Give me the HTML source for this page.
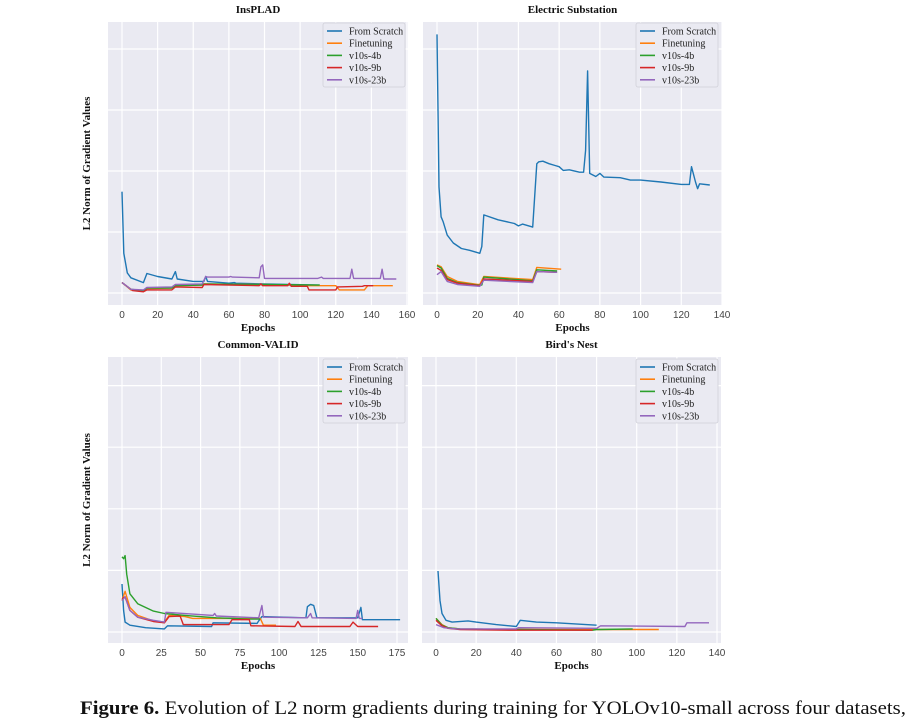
<!DOCTYPE html>
<html><head><meta charset="utf-8"><style>
html,body{margin:0;padding:0;background:#fff;}
svg{display:block;}
.t{font-family:"Liberation Serif",serif;font-weight:bold;font-size:11px;fill:#111;}
.tick{font-family:"Liberation Sans",sans-serif;font-size:10px;fill:#444;}
.leg{font-family:"Liberation Serif",serif;font-size:10px;fill:#222;}
</style></head><body>
<svg id="fig" width="920" height="720" viewBox="0 0 920 720">
<text x="80" y="714" font-family="Liberation Serif,serif" font-size="19" fill="#111" textLength="826" lengthAdjust="spacingAndGlyphs"><tspan font-weight="bold">Figure 6.</tspan> Evolution of L2 norm gradients during training for YOLOv10-small across four datasets,</text>
</svg>
<script>
const seriesNames=["From Scratch","Finetuning","v10s-4b","v10s-9b","v10s-23b"];
const seriesColors=["#1f77b4","#ff7f0e","#2ca02c","#d62728","#9467bd"];
const panelTitles=["InsPLAD","Electric Substation","Common-VALID","Bird's Nest"];
const xTicks1=[0,20,40,60,80,100,120,140,160];
const xTicks2=[0,20,40,60,80,100,120,140];
const xTicks3=[0,25,50,75,100,125,150,175];
const xTicks4=[0,20,40,60,80,100,120,140];

// InsPLAD
const ins_scratch_x=[0,1,3,5,12,14,20,28,30,31,40,46,47,48,60,63,64,80,111];
const ins_scratch_v=[1.66,0.65,0.33,0.25,0.17,0.32,0.27,0.23,0.35,0.23,0.19,0.19,0.27,0.19,0.16,0.17,0.16,0.15,0.13];
const ins_fine_x=[0,5,12,14,28,30,45,46,78,94,105,120,122,136,138,152];
const ins_fine_v=[0.17,0.05,0.03,0.07,0.08,0.12,0.13,0.15,0.14,0.13,0.12,0.12,0.05,0.05,0.12,0.12];
const ins_4b_x=[0,5,12,14,28,30,45,46,80,111];
const ins_4b_v=[0.17,0.06,0.04,0.08,0.08,0.12,0.13,0.15,0.14,0.13];
const ins_9b_x=[0,6,12,14,28,30,45,46,77,78,79,93,94,95,104,105,120,121,135,136,141];
const ins_9b_v=[0.17,0.04,0.02,0.05,0.05,0.10,0.09,0.14,0.12,0.15,0.12,0.12,0.16,0.11,0.11,0.05,0.05,0.10,0.11,0.12,0.12];
const ins_23b_x=[0,5,12,14,28,30,45,47,48,60,61,62,77,78,79,80,110,112,113,128,129,130,145,146,147,154];
const ins_23b_v=[0.17,0.06,0.05,0.09,0.10,0.14,0.15,0.27,0.26,0.26,0.27,0.26,0.25,0.43,0.46,0.24,0.24,0.26,0.24,0.24,0.39,0.24,0.24,0.39,0.23,0.23];

// Electric Substation
const el_scratch_x=[0,1,2,3,5,8,12,16,20,21,22,23,30,38,40,42,47,49,50,52,55,58,60,62,65,70,72,73,74,75,78,80,82,90,95,100,110,120,124,125,127,128,129,134];
const el_scratch_v=[4.24,1.74,1.25,1.17,0.95,0.82,0.73,0.70,0.66,0.65,0.76,1.28,1.20,1.14,1.10,1.13,1.08,2.12,2.15,2.16,2.12,2.09,2.07,2.01,2.02,1.98,1.98,2.34,3.64,1.96,1.91,1.96,1.90,1.89,1.85,1.85,1.82,1.78,1.78,2.07,1.82,1.71,1.79,1.77];
const el_fine_x=[0,2,5,10,20,21,23,47,49,61];
const el_fine_v=[0.46,0.43,0.27,0.19,0.14,0.14,0.27,0.22,0.42,0.39];
const el_4b_x=[0,2,5,10,20,22,23,47,49,59];
const el_4b_v=[0.45,0.41,0.24,0.17,0.13,0.13,0.26,0.20,0.38,0.36];
const el_9b_x=[0,2,5,10,21,23,47,49,59];
const el_9b_v=[0.41,0.37,0.22,0.16,0.12,0.23,0.19,0.35,0.34];
const el_23b_x=[0,2,5,10,21,23,47,49,59];
const el_23b_v=[0.30,0.35,0.19,0.14,0.11,0.21,0.17,0.35,0.34];

// Common-VALID
const cv_scratch_x=[0,1,2,5,15,27,29,57,58,86,87,89,117,118,120,122,124,150,152,153,177];
const cv_scratch_v=[0.78,0.35,0.16,0.11,0.07,0.05,0.10,0.09,0.15,0.14,0.18,0.25,0.23,0.41,0.45,0.43,0.23,0.23,0.40,0.20,0.20];
const cv_fine_x=[0,2,5,10,20,27,30,40,45,60,80,88,90,98];
const cv_fine_v=[0.51,0.66,0.40,0.27,0.18,0.16,0.27,0.25,0.22,0.22,0.22,0.22,0.11,0.11];
const cv_4b_x=[0,1,2,3,5,10,20,27,40,60,80,88];
const cv_4b_v=[1.22,1.19,1.24,0.94,0.62,0.46,0.34,0.30,0.27,0.23,0.21,0.21];
const cv_9b_x=[0,2,5,10,20,27,30,37,39,68,70,81,82,110,112,114,145,147,150,163];
const cv_9b_v=[0.54,0.57,0.35,0.24,0.17,0.15,0.25,0.26,0.12,0.12,0.20,0.20,0.10,0.09,0.17,0.09,0.09,0.16,0.09,0.09];
const cv_23b_x=[0,2,5,10,20,27,28,58,59,60,87,89,90,118,120,121,149,150,151,153];
const cv_23b_v=[0.51,0.57,0.35,0.24,0.19,0.16,0.32,0.27,0.30,0.26,0.23,0.43,0.24,0.23,0.30,0.23,0.22,0.35,0.22,0.22];

// Bird's Nest
const bn_scratch_x=[1,2,3,5,8,16,20,30,40,42,50,60,80];
const bn_scratch_v=[0.99,0.51,0.30,0.19,0.16,0.18,0.16,0.12,0.09,0.19,0.16,0.15,0.11];
const bn_fine_x=[0,3,6,12,40,80,98,111];
const bn_fine_v=[0.22,0.12,0.07,0.05,0.04,0.04,0.04,0.04];
const bn_4b_x=[0,3,6,12,40,78,80,82,98];
const bn_4b_v=[0.22,0.11,0.07,0.05,0.04,0.03,0.04,0.04,0.05];
const bn_9b_x=[0,3,6,12,39,78];
const bn_9b_v=[0.19,0.10,0.06,0.04,0.03,0.03];
const bn_23b_x=[0,4,10,40,41,80,82,124,125,136];
const bn_23b_v=[0.12,0.07,0.05,0.05,0.07,0.06,0.10,0.09,0.15,0.15];

const NS="http://www.w3.org/2000/svg";
const svg=document.getElementById('fig');
function mk(tag,attrs,parent){const e=document.createElementNS(NS,tag);for(const k in attrs)e.setAttribute(k,attrs[k]);(parent||svg).appendChild(e);return e;}

const panels=[
 {L:108,R:408,T:22,B:305,x0:122,xs:285/160,y0:293,ys:61,ticks:xTicks1,legX:323,legY:23,
  series:[[ins_scratch_x,ins_scratch_v],[ins_fine_x,ins_fine_v],[ins_4b_x,ins_4b_v],[ins_9b_x,ins_9b_v],[ins_23b_x,ins_23b_v]]},
 {L:423,R:722,T:22,B:305,x0:437,xs:285/140,y0:293,ys:61,ticks:xTicks2,legX:636,legY:23,
  series:[[el_scratch_x,el_scratch_v],[el_fine_x,el_fine_v],[el_4b_x,el_4b_v],[el_9b_x,el_9b_v],[el_23b_x,el_23b_v]]},
 {L:108,R:408,T:357,B:643,x0:122,xs:275/175,y0:632,ys:61.6,ticks:xTicks3,legX:323,legY:359,
  series:[[cv_scratch_x,cv_scratch_v],[cv_fine_x,cv_fine_v],[cv_4b_x,cv_4b_v],[cv_9b_x,cv_9b_v],[cv_23b_x,cv_23b_v]]},
 {L:422,R:721,T:357,B:643,x0:436,xs:281/140,y0:632,ys:61.6,ticks:xTicks4,legX:636,legY:359,
  series:[[bn_scratch_x,bn_scratch_v],[bn_fine_x,bn_fine_v],[bn_4b_x,bn_4b_v],[bn_9b_x,bn_9b_v],[bn_23b_x,bn_23b_v]]}
];

panels.forEach((p,pi)=>{
  const g=mk('g',{});
  
  
  const xf=v=>p.x0+v*p.xs, yf=v=>p.y0-v*p.ys;
  const bg=mk('rect',{x:p.L,y:p.T,width:p.R-p.L,height:p.B-p.T,fill:'#eaeaf2'},g);
  
  
  for(let k=0;k<=4;k++){
    const gl=mk('line',{x1:p.L,x2:p.R,y1:yf(k),y2:yf(k),stroke:'#fff','stroke-width':1.2},g);
    
    
  }
  p.ticks.forEach(t=>{
    const gl=mk('line',{x1:xf(t),x2:xf(t),y1:p.T,y2:p.B,stroke:'#fff','stroke-width':1.2},g);
    
    
    const tl=mk('text',{x:xf(t),y:p.B+13,'text-anchor':'middle',class:'tick'},g);
    tl.textContent=t;
    
    
  });
  const ttl=mk('text',{x:(p.L+p.R)/2,y:p.T-9,'text-anchor':'middle',class:'t'},g);
  ttl.textContent=panelTitles[pi];
  
  
  const xl=mk('text',{x:(p.L+p.R)/2,y:p.B+26,'text-anchor':'middle',class:'t'},g);
  xl.textContent='Epochs';
  
  
  if(pi%2===0){
    const cy=(p.T+p.B)/2;
    const yl=mk('text',{x:90,y:cy,'text-anchor':'middle',class:'t',transform:'rotate(-90 90 '+cy+')','font-size':'9.5'},g);
    yl.textContent='L2 Norm of Gradient Values';
    
    
  }
  p.series.forEach((s,si)=>{
    const pts=s[0].map((x,i)=>xf(x).toFixed(1)+','+yf(s[1][i]).toFixed(1)).join(' ');
    const pl=mk('polyline',{points:pts,fill:'none',stroke:seriesColors[si],'stroke-width':1.4,'stroke-linejoin':'round'},g);
    
    
  });
  const lg=mk('g',{},g);
  
  
  mk('rect',{x:p.legX,y:p.legY,width:82,height:64,fill:'#eaeaf2',stroke:'#d0d0d8','stroke-width':0.8,rx:2},lg);
  seriesNames.forEach((n,si)=>{
    const yy=p.legY+8+si*12.2;
    mk('line',{x1:p.legX+4,x2:p.legX+19,y1:yy,y2:yy,stroke:seriesColors[si],'stroke-width':1.6},lg);
    const tx=mk('text',{x:p.legX+26,y:yy+3.5,class:'leg'},lg);
    tx.textContent=n;
    
    
  });
});
</script>
</body></html>
